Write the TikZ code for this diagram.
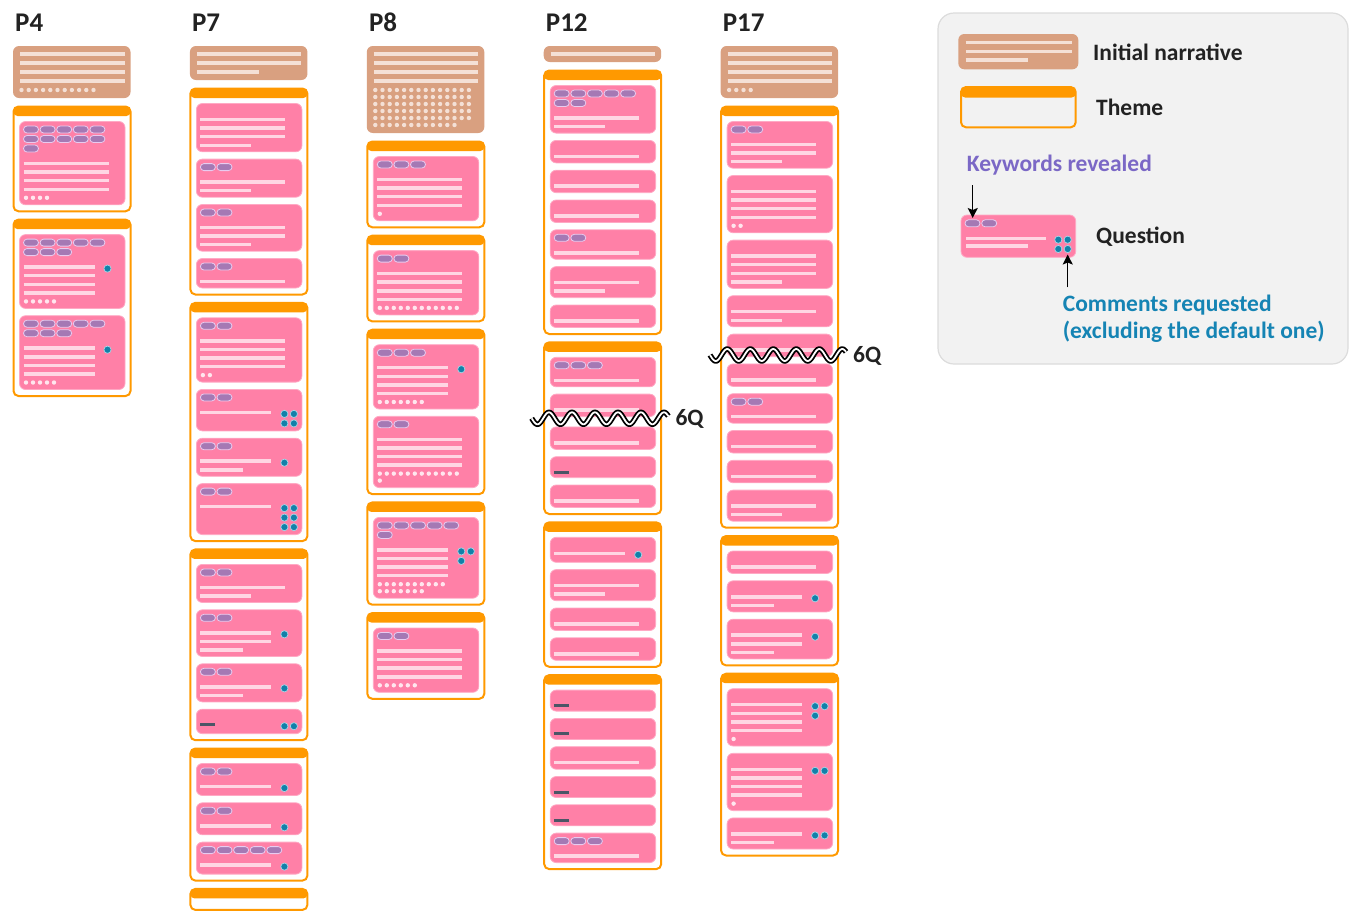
\documentclass[tikz,border=0pt]{standalone}
\usepackage{fontspec}
\setmainfont{Carlito}
\usetikzlibrary{arrows.meta}

\definecolor{cnarr}{HTML}{D9A080}
\definecolor{cnarrline}{HTML}{F4E0D6}
\definecolor{corange}{HTML}{FF9900}
\definecolor{cpink}{HTML}{FF80A7}
\definecolor{cpinkedge}{HTML}{FFA9C4}
\definecolor{cpinkline}{HTML}{FFD6E3}
\definecolor{cpinkdot}{HTML}{FFE6EE}
\definecolor{ckw}{HTML}{A579B4}
\definecolor{ckwedge}{HTML}{E8CBEF}
\definecolor{ccm}{HTML}{1280A9}
\definecolor{ccmedge}{HTML}{A8D6E6}
\definecolor{cdash}{HTML}{4B5566}
\definecolor{cink}{HTML}{222222}
\definecolor{ckwtext}{HTML}{7B68C6}
\definecolor{ccmtext}{HTML}{1584B4}
\definecolor{clegfill}{HTML}{F2F2F2}
\definecolor{clegedge}{HTML}{DCDCDC}

\tikzset{
  narrbox/.style={fill=cnarr, rounded corners=6pt},
  narrline/.style={draw=cnarrline, line width=3.5pt},
  narrdot/.style={fill=cnarrline},
  themebox/.style={draw=corange, line width=2pt, rounded corners=5pt},
  themehead/.style={fill=corange, rounded corners=4pt},
  qbox/.style={fill=cpink, draw=cpinkedge, line width=0.8pt, rounded corners=6pt},
  qtext/.style={draw=cpinkline, line width=3.5pt},
  qdot/.style={fill=cpinkdot},
  kwpill/.style={fill=ckw, draw=ckwedge, line width=0.8pt, rounded corners=3.5pt},
  cmdot/.style={fill=ccm, draw=ccmedge, line width=0.7pt},
  nodash/.style={draw=cdash, line width=3pt},
  coltitle/.style={font=\fontsize{27}{30}\selectfont\bfseries, text=cink, anchor=base west, inner sep=0pt},
  legtext/.style={font=\fontsize{23.5}{26}\selectfont\bfseries, text=cink, anchor=base west, inner sep=0pt},
  legbox/.style={fill=clegfill, draw=clegedge, line width=1.2pt, rounded corners=16pt},
  legarrow/.style={-{Stealth[length=10pt,width=10pt,inset=2pt]}, line width=1.5pt, black},
  waveout/.style={draw=black, line width=5.4pt},
  wavein/.style={draw=white, line width=1.8pt}
}

% column title, resets the running y
\newcommand{\pcolumn}[2]{%
  \xdef\colx{#1}\xdef\cy{46}%
  \node[coltitle] (titleP#2) at (#1+2.5,31.5) {P#2};
}
\newcommand{\vgap}[1]{\pgfmathsetmacro\tmpy{\cy+#1}\xdef\cy{\tmpy}}

% initial narrative: lines, last short, dots
\newcommand{\narr}[3]{%
  \pgfmathsetmacro\nrows{ceil(#3/14)}
  \pgfmathsetmacro\nlast{\cy+8+9*(#1-1)}
  \pgfmathsetmacro\nbot{#3>0 ? \nlast+9+7*(\nrows-1)+8 : \nlast+8}
  \fill[narrbox] (\colx+0.5,\cy) rectangle (\colx+118,\nbot);
  \foreach \i in {1,...,#1}{
    \pgfmathsetmacro\ly{\cy+8+9*(\i-1)}
    \pgfmathsetmacro\lw{(\i==#1 && #2==1) ? 70 : 112}
    \draw[narrline] (\colx+7.5,\ly) -- (\colx+\lw,\ly);
  }
  \ifnum#3>0
    \foreach \k in {1,...,#3}{
      \pgfmathsetmacro\dx{\colx+9+7.2*mod(\k-1,14)}
      \pgfmathsetmacro\dy{\nlast+9+7*floor((\k-1)/14)}
      \fill[narrdot] (\dx,\dy) circle[radius=2.2pt];
    }
  \fi
  \pgfmathsetmacro\tmpy{\nbot+7.5}\xdef\cy{\tmpy}
}

% theme frame
\newcommand{\themeopen}{%
  \xdef\ttop{\cy}%
  \fill[themehead] (\colx+1,\cy+1) rectangle (\colx+118,\cy+10.5);
  \pgfmathsetmacro\tmpy{\cy+15.5}\xdef\lastbot{\tmpy}%
  \pgfmathsetmacro\tmpy{\cy+16}\xdef\cy{\tmpy}%
}
\newcommand{\themeclose}{%
  \pgfmathsetmacro\tbot{\lastbot+6.5}
  \draw[themebox] (\colx+1,\ttop+1) rectangle (\colx+118,\tbot);
  \pgfmathsetmacro\tmpy{\tbot+7.3}\xdef\cy{\tmpy}%
}

% question: pills, lines, last short, dots, comments, dash
\newcommand{\qcard}[6]{%
  \pgfmathsetmacro\qL{\colx+7}
  \pgfmathsetmacro\prows{ceil(#1/5)}
  \pgfmathsetmacro\qfirst{#6==1 ? \cy+15.5 : (#1>0 ? \cy+8+9.5*(\prows-1)+15 : \cy+16)}
  \pgfmathsetmacro\qnl{max(#2,#6)}
  \pgfmathsetmacro\qlast{\qfirst+8.6*(\qnl-1)}
  \pgfmathsetmacro\dwrap{#5>0 ? 10 : 12}
  \pgfmathsetmacro\drows{ceil(#4/\dwrap)}
  \pgfmathsetmacro\bA{#4>0 ? \qlast+8.5+7*(\drows-1)+7 : (#6==1 ? \qlast+5.5 : \qlast+6.5)}
  \pgfmathsetmacro\crows{ceil(#5/2)}
  \pgfmathsetmacro\bB{#5>0 ? \qfirst+1.5+9.5*(\crows-1)+7.5 : 0}
  \pgfmathsetmacro\qB{max(\bA,\bB)}
  \draw[qbox] (\qL,\cy) rectangle (\qL+105.5,\qB);
  \ifnum#1>0
    \foreach \k in {1,...,#1}{
      \pgfmathsetmacro\px{\qL+4+16.6*mod(\k-1,5)}
      \pgfmathsetmacro\py{\cy+8+9.5*floor((\k-1)/5)}
      \draw[kwpill] (\px,\py-3.5) rectangle (\px+15,\py+3.5);
    }
  \fi
  \ifnum#2>0
    \foreach \i in {1,...,#2}{
      \pgfmathsetmacro\ly{\qfirst+8.6*(\i-1)}
      \pgfmathsetmacro\lw{(\i==#2 && #3==1) ? (#5>0 ? 47 : 55) : (#5>0 ? 75 : 89)}
      \draw[qtext] (\qL+4,\ly) -- (\qL+\lw,\ly);
    }
  \fi
  \ifnum#6=1
    \draw[nodash] (\qL+4,\qfirst) -- (\qL+19,\qfirst);
  \fi
  \ifnum#4>0
    \foreach \k in {1,...,#4}{
      \pgfmathsetmacro\dx{\qL+6.5+7*mod(\k-1,\dwrap)}
      \pgfmathsetmacro\dy{\qlast+8.5+7*floor((\k-1)/\dwrap)}
      \fill[qdot] (\dx,\dy) circle[radius=2.2pt];
    }
  \fi
  \ifnum#5>0
    \foreach \k in {1,...,#5}{
      \pgfmathsetmacro\cmx{\qL+88+9.5*mod(\k-1,2)}
      \pgfmathsetmacro\cmy{\qfirst+1.5+9.5*floor((\k-1)/2)}
      \draw[cmdot] (\cmx,\cmy) circle[radius=3.6pt];
    }
  \fi
  \xdef\lastbot{\qB}%
  \pgfmathsetmacro\tmpy{\qB+7.3}\xdef\cy{\tmpy}%
}

% omitted questions marker
\newcommand{\skipwave}[4]{%
  \pgfmathsetmacro\wlen{#2-#1}
  \draw[waveout] plot[domain=0:\wlen, samples=150] (#1+\x,{#3+6*sin(\x/23*360)});
  \draw[wavein] plot[domain=0:\wlen, samples=150] (#1+\x,{#3+6*sin(\x/23*360)});
  \node[legtext] (#4) at (#2+7,#3+7.5) {6Q};
}

\begin{document}
\begin{tikzpicture}[x=1pt, y=-1pt]
  \useasboundingbox (0,0) rectangle (1349,911);

  % P4
  \pcolumn{12.5}{4}
  \narr{4}{0}{11}
  \themeopen
    \qcard{11}{4}{0}{4}{0}{0}
  \themeclose
  \themeopen
    \qcard{8}{4}{0}{5}{1}{0}
    \qcard{8}{4}{0}{5}{1}{0}
  \themeclose

  % P7
  \pcolumn{189.4}{7}
  \narr{3}{1}{0}
  \themeopen
    \qcard{0}{4}{1}{0}{0}{0}
    \qcard{2}{2}{1}{0}{0}{0}
    \qcard{2}{3}{1}{0}{0}{0}
    \qcard{2}{1}{0}{0}{0}{0}
  \themeclose
  \themeopen
    \qcard{2}{4}{0}{2}{0}{0}
    \qcard{2}{1}{0}{0}{4}{0}
    \qcard{2}{2}{1}{0}{1}{0}
    \qcard{2}{1}{0}{0}{6}{0}
  \themeclose
  \themeopen
    \qcard{2}{2}{1}{0}{0}{0}
    \qcard{2}{3}{1}{0}{1}{0}
    \qcard{2}{2}{1}{0}{1}{0}
    \qcard{0}{0}{0}{0}{2}{1}
  \themeclose
  \themeopen
    \qcard{2}{1}{0}{0}{1}{0}
    \qcard{2}{1}{0}{0}{1}{0}
    \qcard{5}{1}{0}{0}{1}{0}
  \themeclose
  \themeopen
  \themeclose

  % P8
  \pcolumn{366.3}{8}
  \narr{4}{0}{82}
  \themeopen
    \qcard{3}{4}{0}{1}{0}{0}
  \themeclose
  \themeopen
    \qcard{2}{4}{0}{12}{0}{0}
  \themeclose
  \themeopen
    \qcard{3}{4}{0}{7}{1}{0}
    \qcard{2}{4}{0}{13}{0}{0}
  \themeclose
  \themeopen
    \qcard{6}{4}{0}{17}{3}{0}
  \themeclose
  \themeopen
    \qcard{2}{4}{0}{6}{0}{0}
  \themeclose

  % P12
  \pcolumn{543.2}{12}
  \narr{1}{0}{0}
  \themeopen
    \qcard{7}{2}{1}{0}{0}{0}
    \qcard{0}{1}{0}{0}{0}{0}
    \qcard{0}{1}{0}{0}{0}{0}
    \qcard{0}{1}{0}{0}{0}{0}
    \qcard{2}{1}{0}{0}{0}{0}
    \qcard{0}{2}{1}{0}{0}{0}
    \qcard{0}{1}{0}{0}{0}{0}
  \themeclose
  \themeopen
    \qcard{3}{1}{0}{0}{0}{0}
    \qcard{0}{1}{0}{0}{0}{0}
    \vgap{3}
    \qcard{0}{1}{0}{0}{0}{0}
    \qcard{0}{0}{0}{0}{0}{1}
    \qcard{0}{1}{0}{0}{0}{0}
  \themeclose
  \themeopen
    \qcard{0}{1}{0}{0}{1}{0}
    \qcard{0}{2}{1}{0}{0}{0}
    \qcard{0}{1}{0}{0}{0}{0}
    \qcard{0}{1}{0}{0}{0}{0}
  \themeclose
  \themeopen
    \qcard{0}{0}{0}{0}{0}{1}
    \qcard{0}{0}{0}{0}{0}{1}
    \qcard{0}{1}{0}{0}{0}{0}
    \qcard{0}{0}{0}{0}{0}{1}
    \qcard{0}{0}{0}{0}{0}{1}
    \qcard{3}{1}{0}{0}{0}{0}
  \themeclose

  % P17
  \pcolumn{720.1}{17}
  \narr{4}{0}{4}
  \themeopen
    \qcard{2}{3}{1}{0}{0}{0}
    \qcard{0}{4}{0}{2}{0}{0}
    \qcard{0}{4}{1}{0}{0}{0}
    \qcard{0}{2}{1}{0}{0}{0}
    \qcard{0}{1}{0}{0}{0}{0}
    \qcard{0}{1}{0}{0}{0}{0}
    \qcard{2}{1}{0}{0}{0}{0}
    \qcard{0}{1}{0}{0}{0}{0}
    \qcard{0}{1}{0}{0}{0}{0}
    \qcard{0}{2}{1}{0}{0}{0}
  \themeclose
  \themeopen
    \qcard{0}{1}{0}{0}{0}{0}
    \qcard{0}{2}{1}{0}{1}{0}
    \qcard{0}{3}{1}{0}{1}{0}
  \themeclose
  \themeopen
    \qcard{0}{4}{0}{1}{3}{0}
    \qcard{0}{4}{0}{1}{2}{0}
    \qcard{0}{2}{1}{0}{2}{0}
  \themeclose

  % skipped questions
  \skipwave{531.7}{668.3}{418.3}{skipP12}
  \skipwave{710}{846}{355}{skipP17}

  % Legend
  \draw[legbox] (938,13) rectangle (1348,364);
  \fill[narrbox] (958.3,34) rectangle (1078.3,69.3);
  \draw[narrline] (965.7,42.7) -- (1071.7,42.7);
  \draw[narrline] (965.7,51.7) -- (1071.7,51.7);
  \draw[narrline] (965.7,60) -- (1027.7,60);
  \node[legtext] (lgnarr) at (1093,60) {Initial narrative};

  \fill[themehead] (961,87) rectangle (1075.7,97.5);
  \draw[themebox] (961,87) rectangle (1075.7,127.3);
  \node[legtext] (lgtheme) at (1096,115) {Theme};

  \node[legtext, text=ckwtext] (lgkw) at (966.7,171.7) {Keywords revealed};
  \draw[qbox] (961,215) rectangle (1075.7,257.3);
  \draw[kwpill] (965,219.8) rectangle (980,226.8);
  \draw[kwpill] (981.7,219.8) rectangle (996.7,226.8);
  \draw[qtext] (966,238.3) -- (1046,238.3);
  \draw[qtext] (966,246) -- (1028,246);
  \draw[cmdot] (1058.3,239.7) circle[radius=3.6pt];
  \draw[cmdot] (1067.7,239.7) circle[radius=3.6pt];
  \draw[cmdot] (1058.3,249) circle[radius=3.6pt];
  \draw[cmdot] (1067.7,249) circle[radius=3.6pt];
  \node[legtext] (lgq) at (1096,243) {Question};

  \coordinate (kwfrom) at (972.7,185);
  \coordinate (kwto) at (972.7,218);
  \draw[legarrow] (kwfrom) -- (kwto);
  \coordinate (cmfrom) at (1067.7,287.3);
  \coordinate (cmto) at (1067.7,254.5);
  \draw[legarrow] (cmfrom) -- (cmto);
  \node[legtext, text=ccmtext] (lgcm) at (1062.7,311) {Comments requested};
  \node[legtext, text=ccmtext] (lgcmb) at (1062.7,338.7) {(excluding the default one)};
\end{tikzpicture}
\end{document}
